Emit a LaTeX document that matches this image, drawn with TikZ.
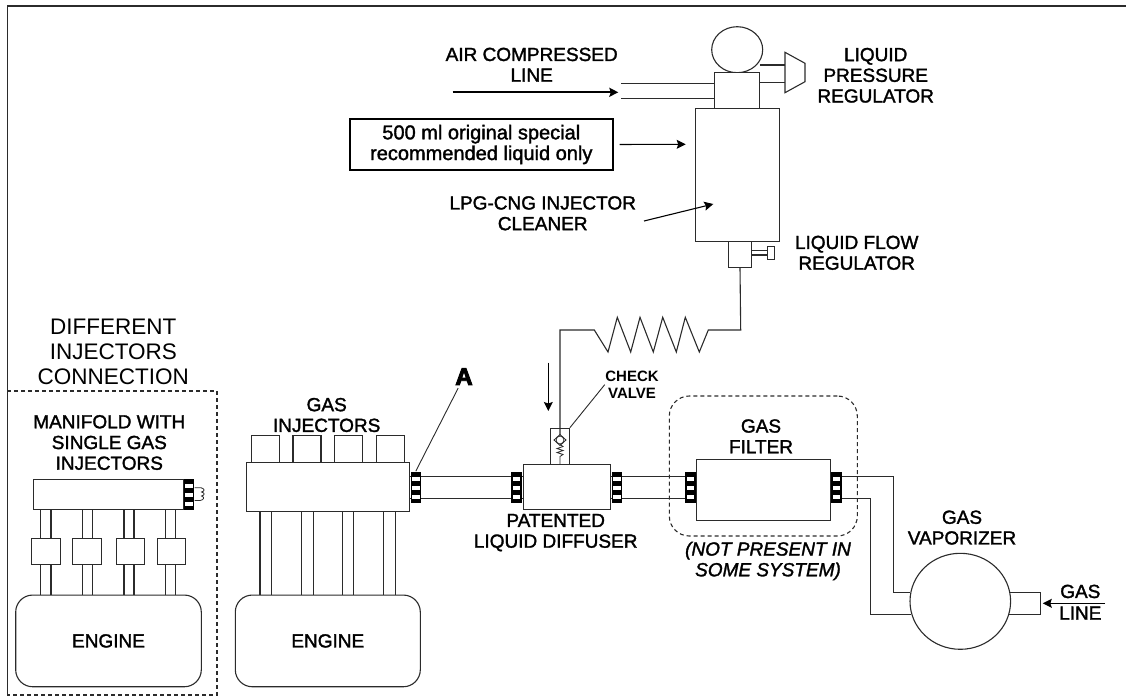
\documentclass[tikz,border=0pt]{standalone}
\usepackage{fontspec}
\setmainfont{Liberation Sans}
\newfontfamily\labfont[FakeBold=1.6]{Liberation Sans}
\newfontfamily\heavyfont[FakeBold=4]{Liberation Sans Bold}
\usepackage{tikz}
\usetikzlibrary{arrows.meta,shapes.geometric}
\definecolor{inkgray}{HTML}{2B2B2B}
\begin{document}
\begin{tikzpicture}[
			x=1pt,y=-1pt,
			line width=1.1pt,
			part/.style={draw=inkgray,rectangle,inner sep=0pt,fill=white},
			tubeline/.style={draw=inkgray},
			arw/.style={draw=black,-{Stealth[length=9pt,width=9pt,inset=1.5pt]}},
			leader/.style={draw=inkgray,line width=0.9pt},
			lab/.style={inner sep=0pt,align=center,font=\fontsize{19}{20.7}\selectfont\labfont},
			injbox/.style={part,minimum width=28pt,minimum height=27pt},
			valvebox/.style={part,minimum width=28.3pt,minimum height=26.7pt},
			engine/.style={part,rounded corners=17pt,minimum height=91.7pt,lab},
			roundtank/.style={draw=inkgray,ellipse,inner sep=0pt,fill=white},
			fitting/.style={rectangle,inner sep=0pt,fill=black,minimum width=10.6pt,minimum height=31.6pt,
				path picture={\foreach \s in {-9,0,9} \fill[white,shift={(path picture bounding box.center)}] (-3.7,\s-2) rectangle (3.7,\s+2);}}
			]
			\useasboundingbox (0,0) rectangle (1126,698);
			\draw[inkgray] (7.3,696) -- (7.3,6) -- (1126,6);
			\draw[inkgray,dash pattern=on 4pt off 3pt] (7.3,391) -- (217,391) -- (217,695) -- (7.3,695);
			\node[part,dash pattern=on 4pt off 3pt,fill=none,rounded corners=20pt,minimum width=188pt,minimum height=140pt] (optbox) at (763.3,466) {};

			\node[roundtank,minimum width=51pt,minimum height=46pt] (gauge) at (737.2,49.7) {};
			\node[part,minimum width=44.6pt,minimum height=35.6pt] (head) at (737,90.5) {};
			\node[part,minimum width=84.3pt,minimum height=133pt] (tank) at (737.2,174.8) {};
			\node[part,minimum width=22.6pt,minimum height=26pt] (flow) at (740,254.3) {};
			\node[part,minimum width=6.7pt,minimum height=12.6pt] (knob) at (770.7,253) {};
			\draw[tubeline] (flow.east |- 0,250.7) -- (knob.west |- 0,250.7);
			\draw[tubeline] (flow.east |- 0,255) -- (knob.west |- 0,255);

			\coordinate (regtop) at (785,65);
			\coordinate (reglow) at (785,82.7);
			\draw[tubeline] (785,52.3) -- (805,63.3) -- (805,81.7) -- (785,92.7) -- cycle;
			\draw[tubeline] (head.east |- regtop) -- (regtop);
			\draw[tubeline] (head.east |- reglow) -- (reglow);
			\coordinate (airup) at (621,83.7);
			\coordinate (airlow) at (621,98.7);
			\draw[tubeline] (airup) -- (head.west |- airup);
			\draw[tubeline] (airlow) -- (head.west |- airlow);

			\node[lab] (airlbl) at (531.7,64.7) {AIR COMPRESSED\\LINE};
			\coordinate (airtail) at (452.7,92.3);
			\coordinate (airtip) at (618.3,92.3);
			\draw[arw,line width=1.8pt] (airtail) -- (airtip);
			\node[draw=black,line width=1.8pt,rectangle,inner sep=0pt,minimum width=262.7pt,minimum height=51pt,lab,font=\fontsize{20}{20.7}\selectfont\labfont] (note) at (481.3,144.5) {500 ml original special\\recommended liquid only};
			\coordinate (notetip) at (685.7,144.3);
			\draw[arw,shorten <=6pt] (note.east) -- (notetip);
			\node[lab] (cleanlbl) at (542.7,213.3) {LPG-CNG INJECTOR\\CLEANER};
			\coordinate (cleantail) at (644,221);
			\coordinate (cleantip) at (713.3,204);
			\draw[arw] (cleantail) -- (cleantip);
			\node[lab] (presslbl) at (875.7,75.3) {LIQUID\\PRESSURE\\REGULATOR};
			\node[lab] (flowlbl) at (856.7,252.8) {LIQUID FLOW\\REGULATOR};

			\node[inner sep=0pt,align=center,font=\fontsize{22.5}{24.7}\selectfont] (difflbl) at (113.3,352) {DIFFERENT\\INJECTORS\\CONNECTION};
			\node[lab] (manlbl) at (109.3,442.5) {MANIFOLD WITH\\SINGLE GAS\\INJECTORS};
			\node[part,minimum width=149.6pt,minimum height=30.7pt] (manifold) at (108.5,494.4) {};
			\node[fitting,minimum height=31pt] (fitM) at (188.8,494.5) {};
			\node[engine,minimum width=185.6pt] (engL) at (108.5,640.9) {ENGINE};
			\foreach \x in {40.7,51,82.3,92.7,124,134,165.7,175.7}
				\draw[tubeline] (\x,0 |- manifold.south) -- (\x,0 |- engL.north);
			\foreach \x in {45.9,86.9,130.2,171.5}
				\node[valvebox] (inj\x) at (\x,551.4) {};
			\draw[inkgray,line width=0.8pt] (fitM.east |- 0,487.7) -- (201,487.7) .. controls (205,489) and (205,491) .. (201.5,492) .. controls (205,493) and (205,495) .. (201.5,496) .. controls (205,497) and (204,500) .. (200,500.5) -- (fitM.east |- 0,500.5);

			\node[lab] (injlbl) at (326.7,415) {GAS\\INJECTORS};
			\node[part,minimum width=162.6pt,minimum height=48.3pt] (rail) at (328,486.9) {};
			\foreach \x in {265.3,307,348.7,390.3}
				\node[injbox] (top\x) at (\x,449.2) {};
			\node[engine,minimum width=185pt] (engR) at (327.8,640.9) {ENGINE};
			\foreach \x in {260,271.7,301.3,313.3,342.3,353.3,383.3,395.7}
				\draw[tubeline] (\x,0 |- rail.south) -- (\x,0 |- engR.north);

			\node[part,minimum width=87pt,minimum height=45.4pt] (diff) at (566.8,487) {};
			\node[part,minimum width=133.3pt,minimum height=61pt] (filter) at (763.4,489.8) {};
			\node[roundtank,minimum width=100.6pt,minimum height=96pt] (vap) at (960.3,601.3) {};
			\foreach \y in {476.7,498.7} {
				\draw[tubeline] (rail.east |- 0,\y) -- (diff.west |- 0,\y);
				\draw[tubeline] (diff.east |- 0,\y) -- (filter.west |- 0,\y);
			}
			\draw[tubeline] (filter.east |- 0,476.7) -- (893.3,476.7) |- (vap.170);
			\draw[tubeline] (filter.east |- 0,498.7) -- (870.7,498.7) |- (vap.195);
			\node[fitting] (fitA) at (415.8,487.5) {};
			\node[fitting] (fitB) at (516.7,487.5) {};
			\node[fitting] (fitC) at (617,487.5) {};
			\node[fitting] (fitD) at (690.3,487.5) {};
			\node[fitting] (fitE) at (836.5,487.5) {};

			\node[part,minimum width=18.6pt,minimum height=36pt] (valve) at (560,446.3) {};
			\node[draw=inkgray,circle,inner sep=0pt,minimum size=8pt,line width=0.8pt] (ball) at (560,440) {};
			\draw[inkgray,line width=0.8pt] (554,440) -- (560,434.5) -- (566,440) -- (560,445.5) -- cycle;
			\draw[inkgray,line width=0.8pt] (ball.south) -- (563,446.5) -- (557,448.5) -- (563,450.5) -- (557,452.5) -- (563,454.5) -- (560,456.5) -- (valve.south);
			\draw[tubeline] (flow.south) -- (740.7,330) -- (708.3,330) -- (699.3,352) -- (685.3,317.3) -- (676.3,352) -- (662.7,317.3) -- (653.3,352) -- (640,317.3) -- (630.7,352) -- (617.3,317.3) -- (608,352) -- (594.3,330) -- (ball.north |- 0,330) -- (ball.north);
			\coordinate (dnstart) at (548.3,362.7);
			\coordinate (dnend) at (548.3,411);
			\draw[arw] (dnstart) -- (dnend);

			\node[inner sep=0pt,font=\fontsize{24}{26}\selectfont\heavyfont] (labA) at (464,376.7) {A};
			\draw[leader,shorten <=3pt] (labA) -- (fitA.north);
			\node[inner sep=0pt,align=center,font=\fontsize{15}{17.3}\selectfont\bfseries] (valvelbl) at (632,384.6) {CHECK\\VALVE};
			\draw[leader] (valvelbl.west) -- (valve.north east);
			\node[lab] (patlbl) at (555.7,532.6) {PATENTED\\LIQUID DIFFUSER};
			\node[lab] (filtlbl) at (761,436.3) {GAS\\FILTER};
			\node[lab,font=\fontsize{19}{20.7}\selectfont\labfont\itshape] (notlbl) at (768,561) {(NOT PRESENT IN\\SOME SYSTEM)};
			\node[lab] (vaplbl) at (962,527.6) {GAS\\VAPORIZER};

			\coordinate (gasend) at (1040.3,603.3);
			\coordinate (gastail) at (1105,603.3);
			\draw[tubeline] (vap.10) -| (gasend) |- (vap.345);
			\draw[arw,shorten >=2.5pt] (gastail) -- (gasend);
			\node[lab] (gaslbl) at (1080.3,602.2) {GAS\\[1pt]LINE};
\end{tikzpicture}
\end{document}
